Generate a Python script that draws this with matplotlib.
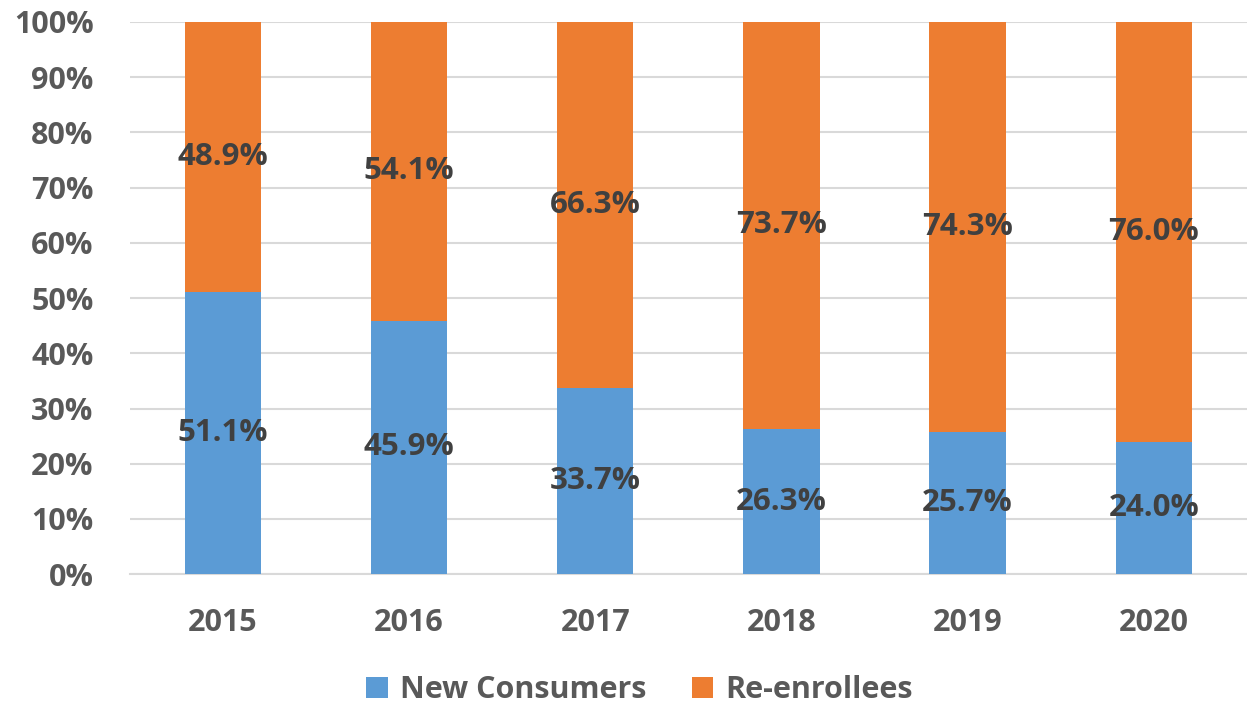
import matplotlib.pyplot as plt
import numpy as np

years = ["2015", "2016", "2017", "2018", "2019", "2020"]
new_consumers = [51.1, 45.9, 33.7, 26.3, 25.7, 24.0]
re_enrollees = [48.9, 54.1, 66.3, 73.7, 74.3, 76.0]

plt.rcParams['font.family'] = ['Open Sans', 'DejaVu Sans']
plt.rcParams['font.weight'] = 'bold'

fig = plt.figure(figsize=(12.47, 7.08), dpi=100)
ax = fig.add_axes([0.104, 0.189, 0.896, 0.780])

x = np.arange(len(years))
blue = '#5B9BD5'
orange = '#ED7D31'
b1 = ax.bar(x, new_consumers, width=0.41, color=blue, label='New Consumers', zorder=3)
b2 = ax.bar(x, re_enrollees, width=0.41, bottom=new_consumers, color=orange,
            label='Re-enrollees', zorder=3)

# value labels in the middle of each segment
for i in range(len(years)):
    ax.text(x[i], new_consumers[i] / 2, f"{new_consumers[i]:.1f}%", ha='center', va='center',
            fontsize=22.5, fontweight='bold', color='#404040', zorder=4)
    ax.text(x[i], new_consumers[i] + re_enrollees[i] / 2, f"{re_enrollees[i]:.1f}%",
            ha='center', va='center', fontsize=22.5, fontweight='bold', color='#404040', zorder=4)

ax.set_xlim(-0.5, len(years) - 0.5)
ax.set_ylim(0, 100)
ax.set_yticks(np.arange(0, 101, 10))
ax.set_yticklabels([f"{v}%" for v in range(0, 101, 10)])
ax.set_xticks(x)
ax.set_xticklabels(years)
ax.tick_params(axis='both', length=0, labelsize=22, labelcolor='#595959')
ax.tick_params(axis='x', pad=24)
ax.tick_params(axis='y', pad=26)
for lbl in ax.get_xticklabels() + ax.get_yticklabels():
    lbl.set_fontweight('bold')

ax.grid(axis='y', color='#D9D9D9', linewidth=1.5, zorder=0)
for s in ['top', 'right', 'left']:
    ax.spines[s].set_visible(False)
ax.spines['bottom'].set_color('#D9D9D9')
ax.spines['bottom'].set_linewidth(1.5)

fig.legend(handles=[b1, b2], loc='center', bbox_to_anchor=(0.513, 0.025), ncol=2,
           frameon=False, labelcolor='#595959', handlelength=0.7,
           handleheight=0.7, handletextpad=0.4, columnspacing=1.5,
           prop={'weight': 'bold', 'size': 22})

fig.savefig('out.png', dpi=100)
